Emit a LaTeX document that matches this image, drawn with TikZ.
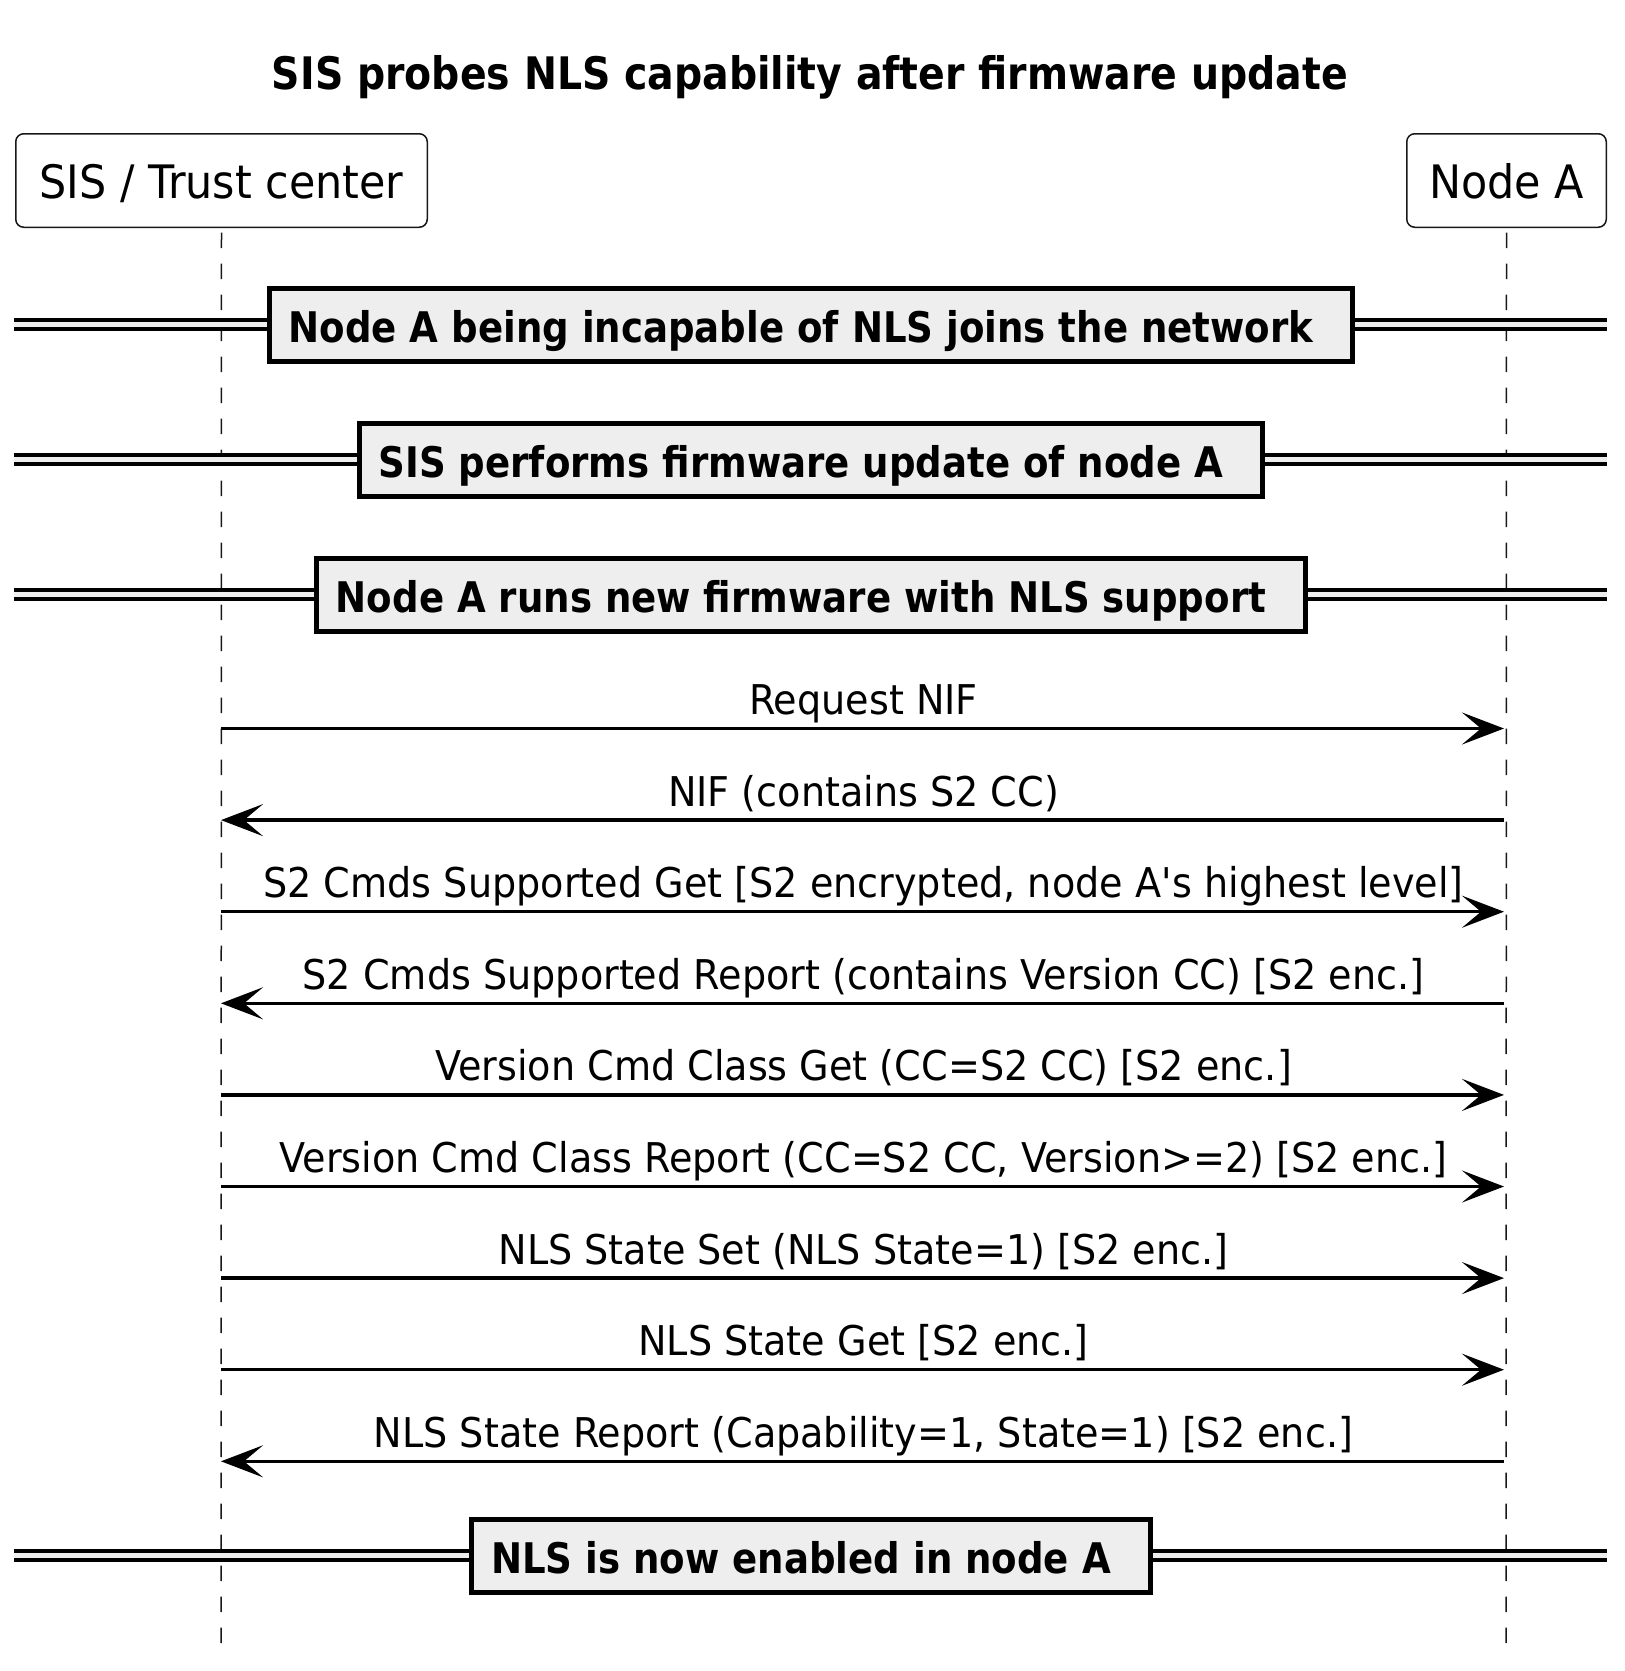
\documentclass[tikz,border=0pt]{standalone}
\usepackage{fontspec}
\setmainfont{DejaVu Sans}[FakeStretch=0.93]
\newfontfamily\boldfam{DejaVu Sans}[FakeStretch=0.88]
\usetikzlibrary{arrows.meta}
\definecolor{ink}{HTML}{181818}
\definecolor{divfill}{HTML}{EEEEEE}
\tikzset{
  partbox/.style={draw=ink, line width=1.5pt, rounded corners=8pt, fill=white,
    minimum height=93.5pt, inner sep=0pt, text height=35pt, text depth=0pt,
    font=\fontsize{46.1}{55}\selectfont},
  lifeline/.style={draw=ink, line width=1.5pt, dash pattern=on 15.7pt off 15.3pt},
  msg/.style={draw=black, line width=3.5pt, -{Stealth[length=42pt,width=32pt,inset=19pt]}},
  msglabel/.style={anchor=base, inner sep=0pt, font=\fontsize{41}{49}\selectfont},
  divbox/.style={draw=black, line width=5pt, fill=divfill, inner xsep=19.5pt, inner ysep=0pt,
    minimum height=73pt, text height=35.4pt, text depth=0pt,
    font=\boldfam\bfseries\fontsize{42.2}{50}\selectfont},
  divline/.style={draw=black, line width=4pt},
  titlestyle/.style={anchor=base, inner sep=0pt, font=\boldfam\bfseries\fontsize{44.8}{54}\selectfont}
}
\newcommand{\divider}[3]{%
  \fill[divfill] (14,#1-4.7) rectangle (1607,#1+4.7);
  \draw[divline] (14,#1-4.7) -- (1607,#1-4.7);
  \draw[divline] (14,#1+4.7) -- (1607,#1+4.7);
  \node[divbox] (#2) at (811,#1) {#3\kern20pt};
}
\begin{document}
\begin{tikzpicture}[x=1pt,y=-1pt]
\path[use as bounding box, fill=white] (0,0) rectangle (1625,1671);

\node[titlestyle] (title) at (810,89) {SIS probes NLS capability after firmware update};

\node[partbox, minimum width=411.5pt] (sis) at (221.5,180.5) {SIS / Trust center};
\node[partbox, minimum width=199.5pt] (nodea) at (1506.5,180.5) {Node A};

\coordinate (sisEnd) at (221,1653);
\coordinate (nodeaEnd) at (1506,1653);
\draw[lifeline] ([yshift=-4.5pt]sis.south) -- (sisEnd);
\draw[lifeline] ([yshift=-4.5pt]nodea.south) -- (nodeaEnd);

\divider{324.5}{div1}{Node A being incapable of NLS joins the network}
\divider{459.5}{div2}{SIS performs firmware update of node A}
\divider{594.5}{div3}{Node A runs new firmware with NLS support}
\divider{1555.5}{div4}{NLS is now enabled in node A}

\foreach \i/\y in {1/728.5,2/820.1,3/911.7,4/1003.3,5/1094.9,6/1186.5,7/1278.1,8/1369.7,9/1461.3}{
  \coordinate (L\i) at (221,\y);
  \coordinate (R\i) at (1504,\y);
  \coordinate (T\i) at (863.5,\y-14);
}

\draw[msg] (L1) -- (R1);
\node[msglabel] (m1) at (T1) {Request NIF};
\draw[msg] (R2) -- (L2);
\node[msglabel] (m2) at (T2) {NIF (contains S2 CC)};
\draw[msg] (L3) -- (R3);
\node[msglabel] (m3) at (T3) {S2 Cmds Supported Get [S2 encrypted, node A\textquotesingle s highest level]};
\draw[msg] (R4) -- (L4);
\node[msglabel] (m4) at (T4) {S2 Cmds Supported Report (contains Version CC) [S2 enc.]};
\draw[msg] (L5) -- (R5);
\node[msglabel] (m5) at (T5) {Version Cmd Class Get (CC=S2 CC) [S2 enc.]};
\draw[msg] (L6) -- (R6);
\node[msglabel] (m6) at (T6) {Version Cmd Class Report (CC=S2 CC, Version>=2) [S2 enc.]};
\draw[msg] (L7) -- (R7);
\node[msglabel] (m7) at (T7) {NLS State Set (NLS State=1) [S2 enc.]};
\draw[msg] (L8) -- (R8);
\node[msglabel] (m8) at (T8) {NLS State Get [S2 enc.]};
\draw[msg] (R9) -- (L9);
\node[msglabel] (m9) at (T9) {NLS State Report (Capability=1, State=1) [S2 enc.]};
\end{tikzpicture}
\end{document}
